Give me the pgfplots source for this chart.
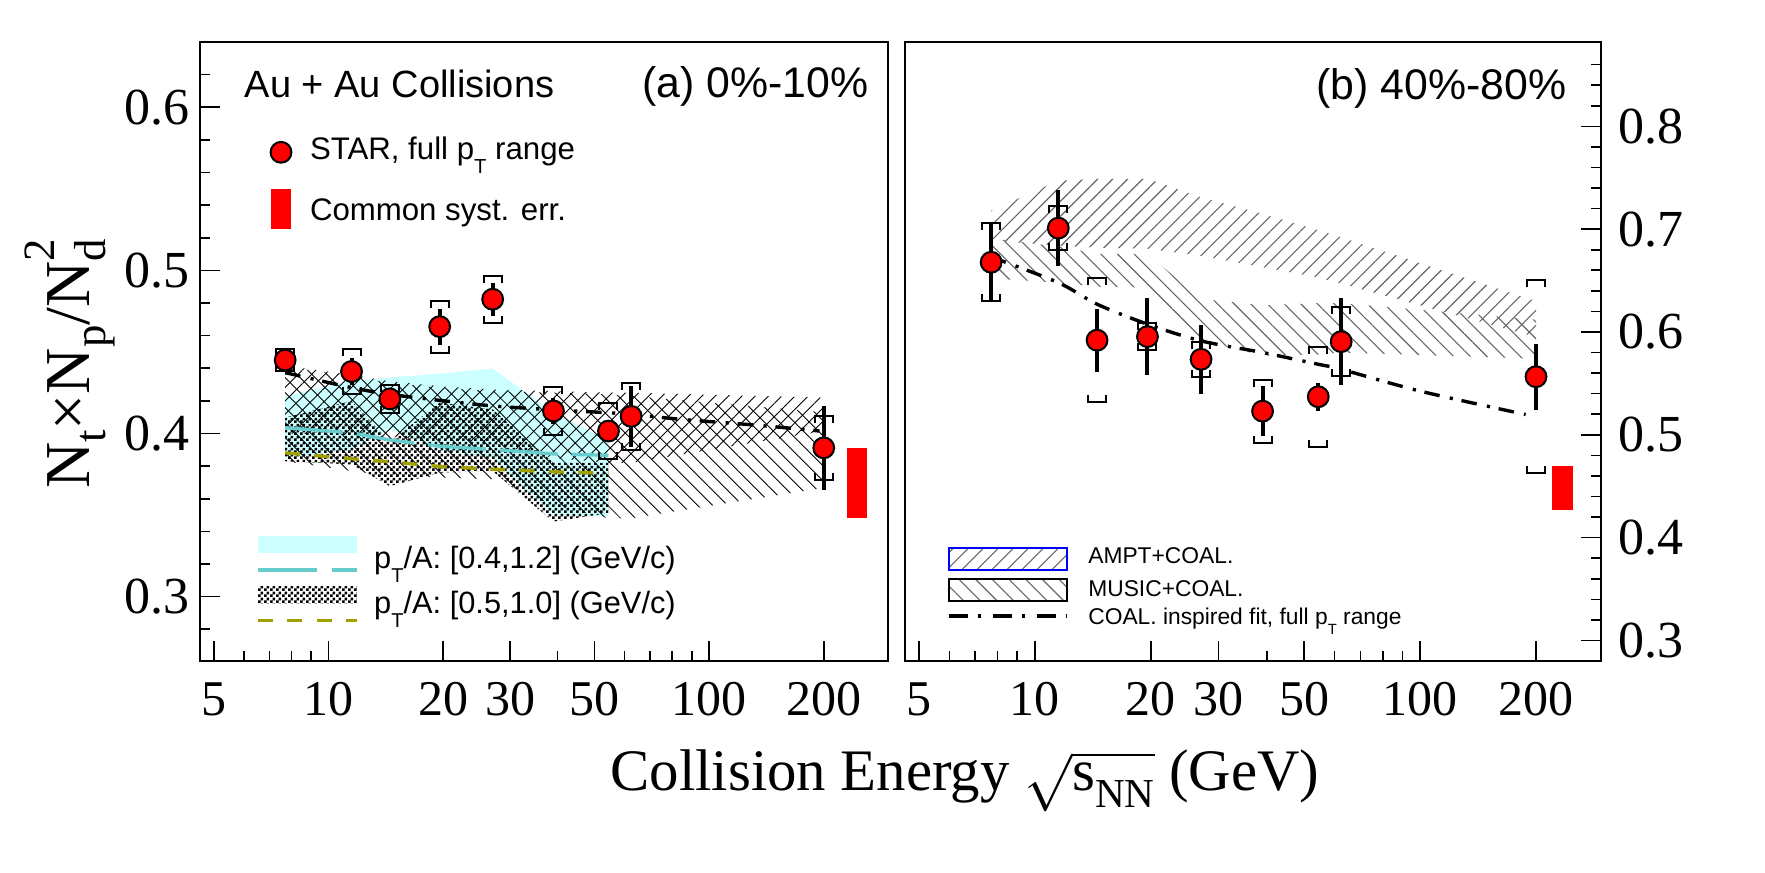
\documentclass[border=0pt]{standalone}
\usepackage{fontspec}
\setmainfont{Liberation Serif}
\newfontfamily\hv{Liberation Sans}
\usepackage{graphicx}
\usepackage{pgfplots}
\pgfplotsset{compat=1.18}
\usepackage{pgfplotstable}
\usetikzlibrary{patterns,patterns.meta}

\newcommand{\sub}[1]{\raisebox{-0.45em}[0pt][0pt]{\scalebox{0.65}{#1}}}
\definecolor{cyanband}{RGB}{204,255,255}
\definecolor{tealline}{RGB}{102,204,204}
\definecolor{oliveline}{RGB}{160,160,0}

\pgfdeclareplotmark{bup}{%
  \pgfpathmoveto{\pgfqpoint{-2.25pt}{-1.75pt}}%
  \pgfpathlineto{\pgfqpoint{-2.25pt}{0pt}}%
  \pgfpathlineto{\pgfqpoint{2.25pt}{0pt}}%
  \pgfpathlineto{\pgfqpoint{2.25pt}{-1.75pt}}%
  \pgfusepathqstroke}
\pgfdeclareplotmark{bdown}{%
  \pgfpathmoveto{\pgfqpoint{-2.25pt}{1.75pt}}%
  \pgfpathlineto{\pgfqpoint{-2.25pt}{0pt}}%
  \pgfpathlineto{\pgfqpoint{2.25pt}{0pt}}%
  \pgfpathlineto{\pgfqpoint{2.25pt}{1.75pt}}%
  \pgfusepathqstroke}

\pgfdeclarepatternformonly{finecheck}{\pgfqpoint{0pt}{0pt}}{\pgfqpoint{1.5pt}{1.5pt}}{\pgfqpoint{1.5pt}{1.5pt}}{%
  \pgfpathrectangle{\pgfqpoint{0pt}{0pt}}{\pgfqpoint{0.75pt}{0.75pt}}%
  \pgfpathrectangle{\pgfqpoint{0.75pt}{0.75pt}}{\pgfqpoint{0.75pt}{0.75pt}}%
  \pgfusepath{fill}}

\pgfplotstableread{
x y stat sys
7.7 0.4450 0.004 0.007
11.5 0.4380 0.008 0.0138
14.5 0.4212 0.006 0.0086
19.6 0.4655 0.011 0.016
27 0.4823 0.010 0.0145
39 0.4138 0.008 0.015
54.4 0.4015 0.003 0.0174
62.4 0.4105 0.0185 0.0205
200 0.3912 0.0257 0.0195
}\leftdata

\pgfplotstableread{
x y stat sys
7.7 0.6678 0.038 0.038
11.5 0.7010 0.0368 0.0216
14.5 0.5920 0.0305 0.060
19.6 0.5955 0.0376 0.0135
27 0.5734 0.0337 0.0171
39 0.5230 0.0244 0.0305
54.4 0.5370 0.0138 0.0488
62.4 0.5906 0.0426 0.0332
200 0.5565 0.0322 0.094
}\rightdata

\pgfplotsset{
  mystarpts/.style={only marks, mark=*, mark size=2.6pt, mark options={fill=red, draw=black, line width=0.5pt}},
  mystatbar/.style={only marks, mark=none, black, error bars/.cd, y dir=both, y explicit, error mark=none, error bar style={line width=1pt, black}},
  mybrk/.style={only marks, mark=#1, mark options={line width=0.5pt, black}},
  myfit/.style={black, line width=0.85pt, dash pattern=on 3.9pt off 2.6pt on 0.8pt off 2.2pt},
}

\begin{document}
\begin{tikzpicture}
\path[use as bounding box] (0,0) rectangle (441.25pt,218pt);

% ---------------- left panel ----------------
\begin{axis}[scale only axis, height=154.75pt, anchor=south west,
  at={(50pt,52.75pt)}, width=172pt,
  xmode=log, xmin=4.6, xmax=295,
  axis line style={line width=0.6pt},
  tick style={black, line width=0.4pt},
  major tick length=5pt, minor tick length=2.5pt,
  xtick={10,100}, xticklabels={10,100},
  minor xtick={6,7,8,9,40,60,70,80,90},
  extra x ticks={5,20,30,50,200}, extra x tick labels={5,20,30,50,200},
  xtick pos=left,
  xticklabel style={anchor=base, yshift=-13.5pt, inner sep=0pt, font=\fontsize{12.5}{13}\selectfont},
  /pgf/number format/assume math mode=true,
  clip mode=individual,
  ymin=0.2605, ymax=0.64,
  ytick={0.3,0.4,0.5,0.6}, yticklabels={0.3,0.4,0.5,0.6},
  minor ytick={0.28,0.32,0.34,0.36,0.38,0.42,0.44,0.46,0.48,0.52,0.54,0.56,0.58,0.62},
  ytick pos=left,
  yticklabel style={anchor=east, inner sep=0pt, xshift=-2.5pt, font=\fontsize{13}{14}\selectfont}]

% cyan band pT/A [0.4,1.2]
\addplot[fill=cyanband, draw=none] coordinates {
 (7.7,0.423) (11.5,0.4322) (14.5,0.4343) (19.6,0.4367) (27,0.4398) (39,0.413) (54.4,0.3955)
 (54.4,0.349) (39,0.350) (27,0.385) (19.6,0.390) (14.5,0.4025) (11.5,0.390) (7.7,0.385)} -- cycle;
% checkered band pT/A [0.5,1.0]
\addplot[draw=none, pattern=finecheck, pattern color=black] coordinates {
 (7.7,0.4097) (11.5,0.420) (14.5,0.395) (19.6,0.4189) (27,0.4148) (39,0.382) (54.4,0.382)
 (54.4,0.3512) (39,0.346) (27,0.3769) (19.6,0.376) (14.5,0.3677) (11.5,0.381) (7.7,0.383)} -- cycle;
% AMPT+COAL.
\addplot[draw=none, pattern={Lines[angle=45,distance=2.35pt,line width=0.22pt]}, pattern color=black] coordinates {
 (7.7,0.4415) (11.5,0.436) (14.5,0.432) (19.6,0.429) (27,0.427) (39,0.426) (54.4,0.425) (62.4,0.425) (200,0.422)
 (200,0.4015) (62.4,0.382) (54.4,0.382) (39,0.385) (27,0.394) (19.6,0.396) (14.5,0.398) (11.5,0.399) (7.7,0.400)} -- cycle;
% MUSIC+COAL.
\addplot[draw=none, pattern={Lines[angle=-45,distance=2.65pt,line width=0.22pt]}, pattern color=black] coordinates {
 (7.7,0.441) (11.5,0.435) (14.5,0.431) (19.6,0.428) (27,0.426) (39,0.425) (54.4,0.424) (62.4,0.423) (200,0.413)
 (200,0.3666) (62.4,0.348) (54.4,0.348) (39,0.356) (27,0.372) (19.6,0.373) (14.5,0.374) (11.5,0.377) (7.7,0.383)} -- cycle;
% model lines
\addplot[tealline, line width=0.85pt, dash pattern=on 14.5pt off 3.5pt] coordinates {
 (7.7,0.4035) (11.5,0.4004) (14.5,0.396) (19.6,0.3922) (27,0.3902) (39,0.3875) (54.4,0.3866)};
\addplot[oliveline, line width=0.85pt, dash pattern=on 3.75pt off 3.6pt] coordinates {
 (7.7,0.3881) (11.5,0.3845) (14.5,0.3826) (19.6,0.3798) (27,0.3781) (39,0.3765) (54.4,0.3757)};
% coalescence inspired fit
\addplot[myfit, smooth] coordinates {
 (7.7,0.4373) (11.5,0.4281) (14.5,0.424) (19.6,0.4203) (27,0.4169) (39,0.4145) (54.4,0.4127)
 (63,0.4117) (84,0.4087) (125,0.4056) (166,0.4031) (195,0.4015)};
% common syst. err.
\addplot[fill=red, draw=none] coordinates {(230,0.348) (260,0.348) (260,0.391) (230,0.391)} -- cycle;
% STAR data
\addplot[mybrk=bup] table[x=x, y expr=\thisrow{y}+\thisrow{sys}] {\leftdata};
\addplot[mybrk=bdown] table[x=x, y expr=\thisrow{y}-\thisrow{sys}] {\leftdata};
\addplot[mystatbar] table[x=x, y=y, y error=stat] {\leftdata};
\addplot[mystarpts] table[x=x, y=y] {\leftdata};

\node[anchor=base west, inner sep=0pt, font=\hv\fontsize{9.5}{11}\selectfont] at (rel axis cs:0.064,0.9111) {Au + Au Collisions};
\node[anchor=base east, inner sep=0pt, font=\hv\fontsize{10.7}{12}\selectfont] at (rel axis cs:0.9731,0.9111) {(a) 0\%-10\%};
\node[rotate=90, anchor=base, inner sep=0pt, font=\fontsize{16}{18}\selectfont] at (rel axis cs:-0.1599,0.4798)
 {N\raisebox{-0.25em}{\scalebox{0.7}{t}}×N\raisebox{-0.25em}{\scalebox{0.7}{p}}/N\rlap{\raisebox{-0.25em}{\scalebox{0.7}{d}}}\raisebox{0.55em}{\scalebox{0.7}{2}}};
\node[anchor=base, inner sep=0pt, font=\fontsize{14.7}{16}\selectfont] at (rel axis cs:1.1119,-0.2084)
 {Collision Energy $\sqrt{\mbox{s\raisebox{-0.3em}{\scalebox{0.7}{NN}}}}$ (GeV)};
\end{axis}

% ---------------- right panel ----------------
\begin{axis}[scale only axis, height=154.75pt, anchor=south west,
  at={(226.25pt,52.75pt)}, width=174pt,
  xmode=log, xmin=4.6, xmax=295,
  axis line style={line width=0.6pt},
  tick style={black, line width=0.4pt},
  major tick length=5pt, minor tick length=2.5pt,
  xtick={10,100}, xticklabels={10,100},
  minor xtick={6,7,8,9,40,60,70,80,90},
  extra x ticks={5,20,30,50,200}, extra x tick labels={5,20,30,50,200},
  xtick pos=left,
  xticklabel style={anchor=base, yshift=-13.5pt, inner sep=0pt, font=\fontsize{12.5}{13}\selectfont},
  /pgf/number format/assume math mode=true,
  clip mode=individual,
  ymin=0.28, ymax=0.882,
  ytick={0.3,0.4,0.5,0.6,0.7,0.8}, yticklabels={0.3,0.4,0.5,0.6,0.7,0.8},
  minor ytick={0.32,0.34,0.36,0.38,0.42,0.44,0.46,0.48,0.52,0.54,0.56,0.58,0.62,0.64,0.66,0.68,0.72,0.74,0.76,0.78,0.82,0.84,0.86},
  ytick pos=right, yticklabel pos=right,
  yticklabel style={anchor=west, inner sep=0pt, xshift=4.25pt, font=\fontsize{13}{14}\selectfont}]

\addplot[draw=none, pattern={Lines[angle=45,distance=2.65pt,line width=0.28pt]}, pattern color=black!60] coordinates {
 (7.7,0.718) (11.5,0.747) (14.5,0.749) (19.6,0.749) (27,0.731) (39,0.715) (54.4,0.699) (62.4,0.692) (200,0.630)
 (200,0.595) (62.4,0.647) (54.4,0.653) (39,0.663) (27,0.674) (19.6,0.681) (14.5,0.682) (11.5,0.684) (7.7,0.689)} -- cycle;
\addplot[draw=none, pattern={Lines[angle=-45,distance=2.95pt,line width=0.28pt]}, pattern color=black!60] coordinates {
 (7.7,0.691) (11.5,0.683) (14.5,0.676) (19.6,0.676) (27,0.632) (39,0.626) (54.4,0.628) (62.4,0.628) (200,0.612)
 (200,0.574) (62.4,0.580) (54.4,0.578) (39,0.577) (27,0.592) (19.6,0.643) (14.5,0.644) (11.5,0.648) (7.7,0.652)} -- cycle;
\addplot[myfit, smooth] coordinates {
 (7.7,0.673) (11.5,0.648) (14.5,0.627) (19.6,0.6076) (27,0.5913) (39,0.580) (54.4,0.5686)
 (62.4,0.5637) (100,0.5425) (188,0.5197)};
\addplot[fill=red, draw=none] coordinates {(220,0.427) (250,0.427) (250,0.470) (220,0.470)} -- cycle;
\addplot[mybrk=bup] table[x=x, y expr=\thisrow{y}+\thisrow{sys}] {\rightdata};
\addplot[mybrk=bdown] table[x=x, y expr=\thisrow{y}-\thisrow{sys}] {\rightdata};
\addplot[mystatbar] table[x=x, y=y, y error=stat] {\rightdata};
\addplot[mystarpts] table[x=x, y=y] {\rightdata};

\node[anchor=base east, inner sep=0pt, font=\hv\fontsize{10.7}{12}\selectfont] at (rel axis cs:0.9513,0.9079) {(b) 40\%-80\%};
\end{axis}

% ---------------- legends ----------------
\begin{axis}[scale only axis, height=154.75pt, anchor=south west, hide axis,
  xmin=0, xmax=1, ymin=0, ymax=1, at={(50pt,52.75pt)}, width=172pt,
  legend style={at={(0.0974,0.8622)}, anchor=north west, draw=none, fill=none,
    inner sep=0pt, outer sep=0pt, row sep=3.2pt, column sep=3.75pt,
    font=\hv\fontsize{7.8}{9}\selectfont, cells={anchor=base west},
    nodes={inner sep=0pt, text depth=0pt, text height=0pt}}]
\addlegendimage{legend image code/.code={\path[draw=none,fill=none] (0,-4pt) rectangle (7pt,8pt);
  \draw[black, fill=red, line width=0.5pt] (3.5pt,1.75pt) circle (2.6pt);}}
\addlegendentry{STAR, full p\sub{T} range}
\addlegendimage{legend image code/.code={\path[draw=none,fill=none] (0,-4pt) rectangle (7pt,8pt);
  \fill[red, draw=none] (0.9pt,-2.1pt) rectangle (6.1pt,7.7pt);}}
\addlegendentry{Common syst. err.}
\end{axis}

\begin{axis}[scale only axis, height=154.75pt, anchor=south west, hide axis,
  xmin=0, xmax=1, ymin=0, ymax=1, at={(50pt,52.75pt)}, width=172pt,
  legend style={at={(0.0814,0.2047)}, anchor=north west, draw=none, fill=none,
    inner sep=0pt, outer sep=0pt, row sep=0.25pt, column sep=3.9pt,
    font=\hv\fontsize{7.7}{9}\selectfont, cells={anchor=base west},
    nodes={inner sep=0pt, text depth=0pt, text height=0pt}}]
\addlegendimage{legend image code/.code={\path[draw=none,fill=none] (0,-2.5pt) rectangle (24.75pt,8.5pt);
  \fill[cyanband, draw=none] (0,3.75pt) rectangle (24.75pt,8.1pt);
  \draw[tealline, line width=0.9pt, dash pattern=on 14.75pt off 3.75pt] (0,-0.4pt) -- (24.75pt,-0.4pt);}}
\addlegendentry{p\sub{T}/A: [0.4,1.2] (GeV/c)}
\addlegendimage{legend image code/.code={\path[draw=none,fill=none] (0,-2.5pt) rectangle (24.75pt,8.5pt);
  \fill[pattern=finecheck, pattern color=black, draw=none] (0,2.35pt) rectangle (24.75pt,6.7pt);
  \draw[oliveline, line width=0.9pt, dash pattern=on 3.75pt off 3.6pt] (0,-1.8pt) -- (24.75pt,-1.8pt);}}
\addlegendentry{p\sub{T}/A: [0.5,1.0] (GeV/c)}
\end{axis}

\begin{axis}[scale only axis, height=154.75pt, anchor=south west, hide axis,
  xmin=0, xmax=1, ymin=0, ymax=1, at={(226.25pt,52.75pt)}, width=174pt,
  legend style={at={(0.0599,0.1869)}, anchor=north west, draw=none, fill=none,
    inner sep=0pt, outer sep=0pt, row sep=0pt, column sep=4.8pt,
    font=\hv\fontsize{5.7}{7}\selectfont, cells={anchor=base west},
    nodes={inner sep=0pt, text depth=0pt, text height=0pt}}]
\addlegendimage{legend image code/.code={\path[draw=none,fill=none] (0,-3.5pt) rectangle (29.6pt,4.5pt);
  \draw[blue, line width=0.4pt, pattern={Lines[angle=45,distance=2.65pt,line width=0.28pt]}, pattern color=black!60] (0,-1.7pt) rectangle (29.6pt,3.9pt);}}
\addlegendentry{AMPT+COAL.}
\addlegendimage{legend image code/.code={\path[draw=none,fill=none] (0,-2.5pt) rectangle (29.6pt,4.85pt);
  \draw[black, line width=0.6pt, pattern={Lines[angle=-45,distance=2.95pt,line width=0.28pt]}, pattern color=black!60] (0,-1.1pt) rectangle (29.6pt,4.4pt);}}
\addlegendentry{MUSIC+COAL.}
\addlegendimage{legend image code/.code={\path[draw=none,fill=none] (0,-1pt) rectangle (29.6pt,4.4pt);
  \draw[black, line width=1pt, dash pattern=on 4.75pt off 2.5pt on 0.75pt off 3pt] (0,2.1pt) -- (29.6pt,2.1pt);}}
\addlegendentry{COAL. inspired fit, full p\sub{T} range}
\end{axis}
\end{tikzpicture}
\end{document}
